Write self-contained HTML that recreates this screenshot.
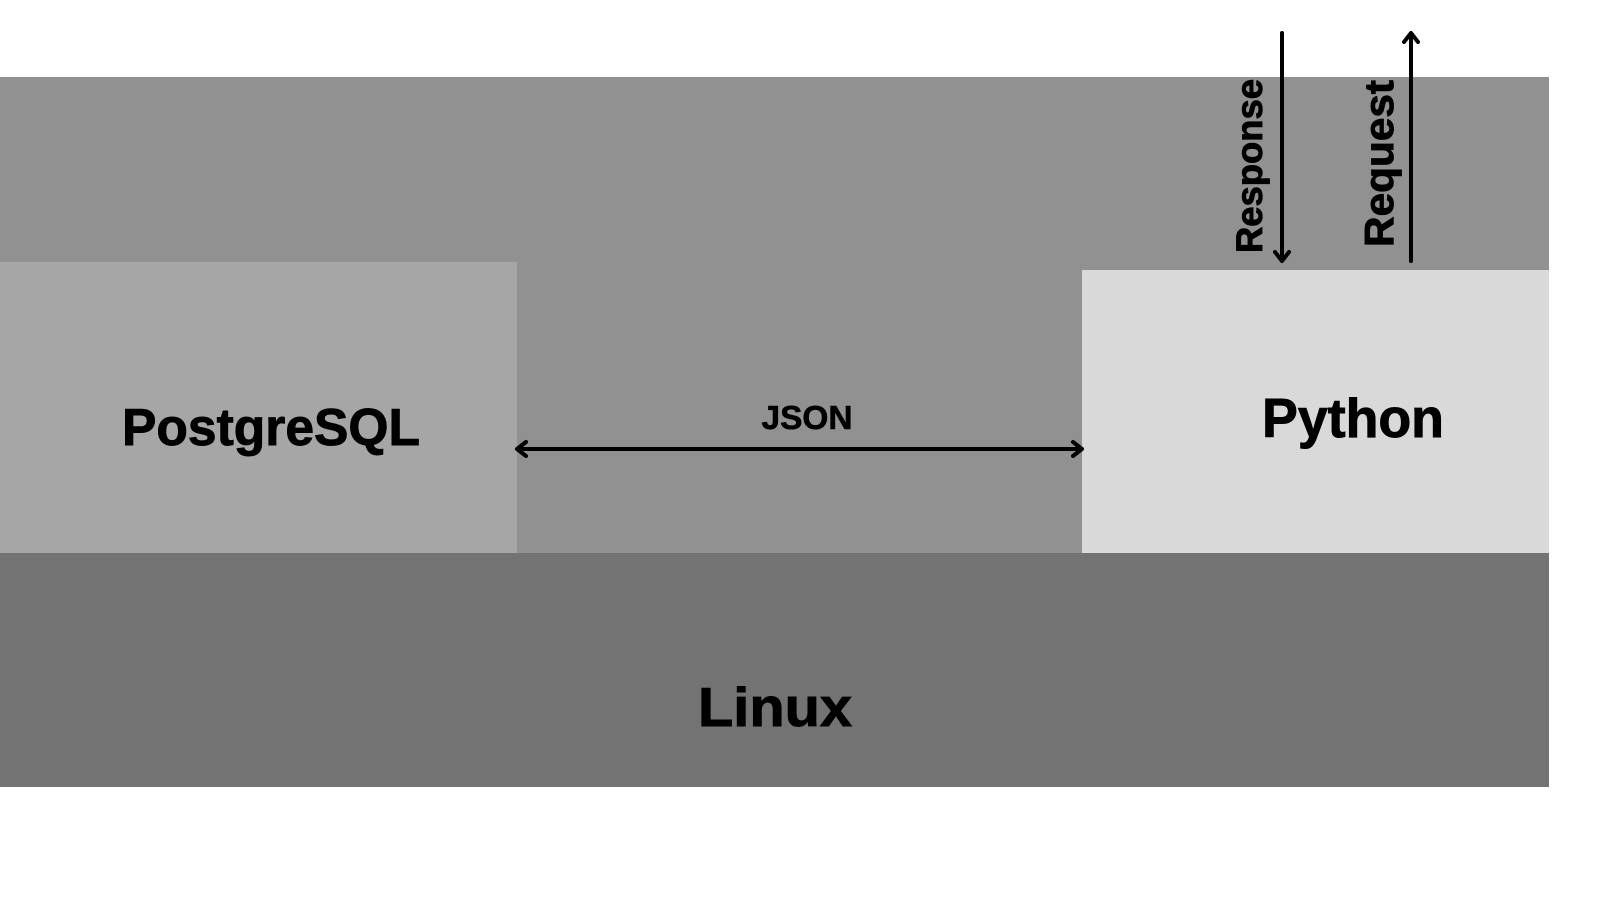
<!DOCTYPE html>
<html>
<head>
<meta charset="utf-8">
<style>
html,body{margin:0;padding:0;background:#ffffff;}
svg{display:block;}
text{font-family:"Liberation Sans",sans-serif;font-weight:bold;fill:#000;stroke:#000;stroke-width:0.9;}
</style>
</head>
<body>
<svg width="1600" height="900" viewBox="0 0 1600 900" xmlns="http://www.w3.org/2000/svg">
  <rect x="0" y="0" width="1600" height="900" fill="#ffffff"/>
  <!-- top gray band -->
  <rect x="0" y="77" width="1549" height="476" fill="#919191"/>
  <!-- PostgreSQL box -->
  <rect x="0" y="262" width="517" height="291" fill="#a6a6a6"/>
  <!-- Python box -->
  <rect x="1082" y="270" width="467" height="283" fill="#d9d9d9"/>
  <!-- Linux band -->
  <rect x="0" y="553" width="1549" height="234" fill="#737373"/>

  <!-- labels -->
  <text x="271" y="445" font-size="52" text-anchor="middle" textLength="298" lengthAdjust="spacingAndGlyphs">PostgreSQL</text>
  <text x="1353" y="437" font-size="55" text-anchor="middle" textLength="182" lengthAdjust="spacingAndGlyphs">Python</text>
  <text x="775" y="726" font-size="55" text-anchor="middle" textLength="154" lengthAdjust="spacingAndGlyphs">Linux</text>
  <text x="807" y="429" font-size="33" text-anchor="middle" textLength="91" lengthAdjust="spacingAndGlyphs" style="stroke-width:0.6">JSON</text>

  <!-- JSON double arrow -->
  <g stroke="#000" stroke-width="4" fill="none" stroke-linecap="round" stroke-linejoin="round">
    <line x1="518" y1="449" x2="1081" y2="449"/>
    <polyline points="526,442 517,449 526,456"/>
    <polyline points="1073,442 1082,449 1073,456"/>
  </g>

  <!-- Response arrow (down) -->
  <g stroke="#000" stroke-width="4" fill="none" stroke-linecap="round" stroke-linejoin="round">
    <line x1="1282" y1="33" x2="1282" y2="260"/>
    <polyline points="1275,252 1282,261 1289,252"/>
  </g>
  <!-- Request arrow (up) -->
  <g stroke="#000" stroke-width="4" fill="none" stroke-linecap="round" stroke-linejoin="round">
    <line x1="1411" y1="34" x2="1411" y2="261"/>
    <polyline points="1404,42 1411,33 1418,42"/>
  </g>

  <text transform="translate(1262,166) rotate(-90)" x="0" y="0" font-size="37" text-anchor="middle" textLength="174" lengthAdjust="spacingAndGlyphs">Response</text>
  <text transform="translate(1393,163.5) rotate(-90)" x="0" y="0" font-size="41" text-anchor="middle" textLength="167" lengthAdjust="spacingAndGlyphs">Request</text>
</svg>
</body>
</html>
